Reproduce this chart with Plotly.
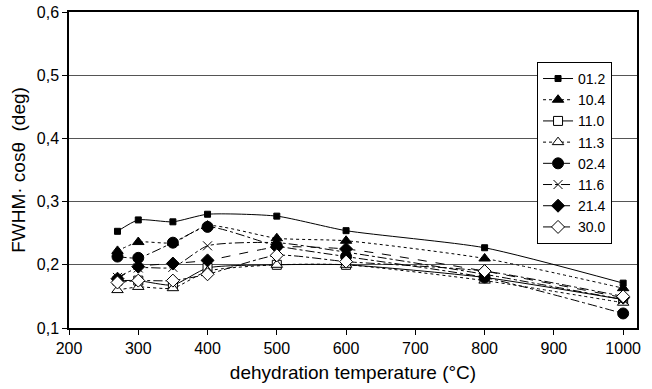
import plotly.graph_objects as go

temps = [270, 300, 350, 400, 500, 600, 800, 1000]

s_012 = [0.253, 0.271, 0.268, 0.280, 0.277, 0.254, 0.227, 0.171]
s_104 = [0.222, 0.236, 0.235, 0.262, 0.242, 0.238, 0.210, 0.163]
s_110 = [0.175, 0.175, 0.168, 0.195, 0.200, 0.200, 0.180, 0.145]
s_113 = [0.160, 0.165, 0.163, 0.190, 0.200, 0.200, 0.175, 0.140]
s_024 = [0.213, 0.211, 0.235, 0.260, 0.230, 0.213, 0.180, 0.123]
s_116 = [0.180, 0.195, 0.196, 0.230, 0.235, 0.220, 0.185, 0.145]
s_214 = [0.178, 0.197, 0.202, 0.207, 0.228, 0.225, 0.190, 0.148]
s_300 = [0.172, 0.175, 0.175, 0.185, 0.215, 0.205, 0.190, 0.150]

series = [
    ("01.2", s_012, "solid", "square", 6, "black"),
    ("10.4", s_104, "dot", "triangle-up", 10, "black"),
    ("11.0", s_110, "solid", "square", 9, "white"),
    ("11.3", s_113, "dot", "triangle-up", 10, "white"),
    ("02.4", s_024, "dashdot", "circle", 11, "black"),
    ("11.6", s_116, "dashdot", "x-thin", 9, "black"),
    ("21.4", s_214, "dash", "diamond", 10, "black"),
    ("30.0", s_300, "dashdot", "diamond", 10, "white"),
]

y_ticks = [0.1, 0.2, 0.3, 0.4, 0.5, 0.6]
y_labels = ["0,1", "0,2", "0,3", "0,4", "0,5", "0,6"]
x_ticks = [200, 300, 400, 500, 600, 700, 800, 900, 1000]

fig = go.Figure()
for name, vals, dash, sym, size, fill in series:
    fig.add_trace(go.Scatter(
        x=temps, y=vals, name=name, mode="lines+markers",
        line=dict(color="black", width=1, dash=dash, shape="spline", smoothing=0.6),
        marker=dict(symbol=sym, size=size, color=fill,
                    line=dict(color="black", width=1)),
    ))

fig.update_layout(
    width=652, height=389,
    margin=dict(l=69, r=15, t=12, b=61),
    paper_bgcolor="white", plot_bgcolor="white",
    font=dict(family="Liberation Sans, Arial, sans-serif", size=16, color="black"),
    showlegend=True,
    legend=dict(x=0.824, y=0.842, xanchor="left", yanchor="top",
                bordercolor="black", borderwidth=1, bgcolor="white",
                font=dict(size=14), tracegroupgap=0, itemwidth=30),
    xaxis=dict(range=[200, 1020], tickvals=x_ticks, ticks="outside", ticklen=5,
               tickcolor="black", showgrid=False, showline=True, linecolor="black",
               linewidth=1.5, mirror=True, zeroline=False, automargin=False,
               title=dict(text="dehydration temperature (°C)", font=dict(size=19), standoff=10)),
    yaxis=dict(range=[0.1, 0.6], tickvals=y_ticks, ticktext=y_labels, ticks="outside",
               ticklen=5, tickcolor="black", showgrid=True, gridcolor="#555", gridwidth=1,
               showline=True, linecolor="black", linewidth=1.5, mirror=True, zeroline=False,
               automargin=False,
               title=dict(text="FWHM· cosθ  (deg)", font=dict(size=19), standoff=6)),
)

fig.write_html("out.html", config={"displayModeBar": False},
               post_script="document.body.style.margin='0';")
